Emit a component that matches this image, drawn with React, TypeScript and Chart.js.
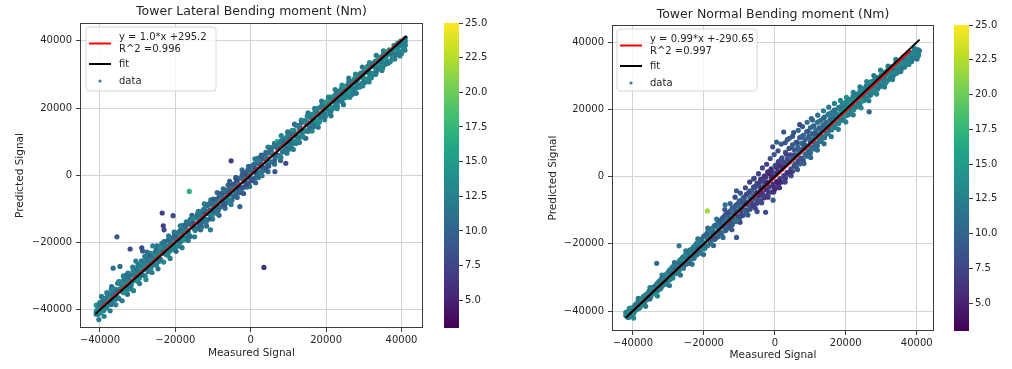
import React, { useEffect, useRef } from "react";
import { Chart, registerables } from "chart.js";

Chart.register(...registerables);

const FONT = "'DejaVu Sans', 'Liberation Sans', sans-serif";
const TEXT = "#262626";

// ---------- data ----------
const axisTicks = [-40000, -20000, 0, 20000, 40000];
const colorbarTicks = [5, 7.5, 10, 12.5, 15, 17.5, 20, 22.5, 25];
const colorMin = 3;
const colorMax = 25;

const lateralTitle = "Tower Lateral Bending moment (Nm)";
const normalTitle = "Tower Normal Bending moment (Nm)";
const xAxisLabel = "Measured Signal";
const yAxisLabel = "Predicted Signal";
const lateralFitLabel = ["y = 1.0*x +295.2", "R^2 =0.996"];
const normalFitLabel = ["y = 0.99*x +-290.65", "R^2 =0.997"];
const identityLabel = "fit";
const dataLabel = "data";

// regression (red) and identity (black, "fit") lines: [measured, predicted]
const lateralRegLine = [[-40000, -39705], [40500, 40795]];
const lateralIdLine = [[-41200, -41200], [41400, 41400]];
const normalRegLine = [[-41000, -40881], [38300, 37626]];
const normalIdLine = [[-42000, -42000], [40800, 40800]];

// [measured, predicted, colour value]
const lateralPoints = [
  [-41000,-40600,12],[-41000,-38600,15],[-41000,-41300,11],
  [-40000,-38800,13],[-40000,-40800,12],[-40000,-37800,14],
  [-39000,-38700,11],[-39000,-37200,13],[-39000,-40200,12],
  [-38000,-35400,14],[-38000,-37100,12],[-38000,-38600,13],
  [-37000,-38400,11],[-37000,-35500,13],[-37000,-34000,12],
  [-36000,-35800,12],[-36000,-33800,14],[-36000,-37000,13],
  [-35000,-33900,13],[-35000,-31600,12],[-35000,-36600,11],
  [-34000,-34500,12],[-34000,-31500,14],[-34000,-33200,13],
  [-33000,-31300,12],[-33000,-34300,13],[-33000,-29700,11],
  [-32000,-31600,14],[-32000,-29700,12],[-32000,-33800,13],
  [-31000,-27900,13],[-31000,-31200,11],[-31000,-29600,12],
  [-30000,-31500,12],[-30000,-29200,14],[-30000,-27400,13],
  [-29000,-27100,11],[-29000,-29700,13],[-29000,-25400,12],
  [-28000,-27700,13],[-28000,-25300,12],[-28000,-29900,14],
  [-27000,-25700,12],[-27000,-28100,11],[-27000,-23800,13],
  [-26000,-23800,14],[-26000,-26300,12],[-26000,-25600,10],
  [-25000,-26600,13],[-25000,-23400,12],[-25000,-22000,11],
  [-24000,-23300,12],[-24000,-21500,13],[-24000,-24900,10],
  [-23000,-19700,11],[-23000,-23200,14],[-23000,-21500,12],
  [-22000,-23800,13],[-22000,-21100,12],[-22000,-19300,9],
  [-21000,-19000,12],[-21000,-21700,10],[-21000,-20700,13],
  [-20000,-17100,13],[-20000,-21300,12],[-20000,-18800,11],
  [-19000,-18500,12],[-19000,-16800,14],[-19000,-21000,10],
  [-18000,-18500,11],[-18000,-16300,13],[-18000,-14900,12],
  [-17000,-14500,12],[-17000,-18500,11],[-17000,-16200,9],
  [-16000,-14700,13],[-16000,-18200,12],[-16000,-13100,10],
  [-15000,-15800,12],[-15000,-14400,11],[-15000,-12700,13],
  [-14000,-11000,12],[-14000,-15700,10],[-14000,-12900,14],
  [-13000,-13300,9],[-13000,-11000,12],[-13000,-15400,13],
  [-12000,-10400,11],[-12000,-8800,13],[-12000,-13200,12],
  [-11000,-13000,10],[-11000,-10600,12],[-11000,-8400,11],
  [-10000,-9000,13],[-10000,-10900,9],[-10000,-7100,12],
  [-9000,-11300,12],[-9000,-7100,10],[-9000,-8900,11],
  [-8000,-5400,9],[-8000,-9400,12],[-8000,-7300,13],
  [-7000,-6800,11],[-7000,-9100,10],[-7000,-4800,12],
  [-6000,-2900,10],[-6000,-4800,8],[-6000,-7100,12],
  [-5000,-7400,11],[-5000,-4400,9],[-5000,-2600,13],
  [-4000,-2400,10],[-4000,-5300,12],[-4000,-800,9],
  [-3000,-3500,8],[-3000,-900,11],[-3000,-5200,10],
  [-2000,-1100,12],[-2000,900,10],[-2000,-3600,9],
  [-1000,-3500,11],[-1000,-600,8],[-1000,800,12],
  [0,2600,10],[0,-1000,9],[0,1100,7],
  [1000,-900,11],[1000,1300,10],[1000,3400,13],
  [2000,3500,9],[2000,-700,12],[2000,5100,11],
  [3000,2400,10],[3000,5000,8],[3000,1200,12],
  [4000,6800,11],[4000,4700,10],[4000,1600,9],
  [5000,3800,12],[5000,6700,10],[5000,8300,13],
  [6000,6200,9],[6000,3900,11],[6000,8500,12],
  [7000,8300,11],[7000,6100,10],[7000,10000,17],
  [8000,5400,12],[8000,8800,11],[8000,10200,13],
  [9000,10800,10],[9000,7500,12],[9000,9300,11],
  [10000,9600,13],[10000,12700,11],[10000,7700,12],
  [11000,12200,12],[11000,9700,10],[11000,13400,13],
  [12000,14900,11],[12000,11800,13],[12000,9500,12],
  [13000,11300,12],[13000,14500,13],[13000,13500,10],
  [14000,16200,14],[14000,13100,12],[14000,11400,11],
  [15000,15700,13],[15000,17600,12],[15000,13200,12],
  [16000,15500,11],[16000,17900,13],[16000,13700,14],
  [17000,18300,12],[17000,15500,13],[17000,19800,12],
  [18000,15600,13],[18000,18200,12],[18000,20000,14],
  [19000,20100,12],[19000,17800,13],[19000,21500,11],
  [20000,18000,19],[20000,20600,13],[20000,21800,12],
  [21000,20400,17],[21000,23300,13],[21000,18300,12],
  [22000,23500,12],[22000,20200,13],[22000,22400,14],
  [23000,21900,12],[23000,25000,13],[23000,20600,11],
  [24000,24800,13],[24000,23700,12],[24000,25700,14],
  [25000,23100,13],[25000,26200,12],[25000,24300,13],
  [26000,26300,12],[26000,27900,13],[26000,23800,14],
  [27000,25600,12],[27000,27900,13],[27000,24100,12],
  [28000,29500,13],[28000,27300,12],[28000,26000,13],
  [29000,29200,12],[29000,26400,13],[29000,30200,14],
  [30000,28800,13],[30000,30700,12],[30000,27700,12],
  [31000,32400,12],[31000,30600,13],[31000,28200,13],
  [32000,30300,13],[32000,32500,12],[32000,29000,12],
  [33000,33900,12],[33000,32100,13],[33000,30600,14],
  [34000,33700,13],[34000,32000,12],[34000,35100,12],
  [35000,33700,12],[35000,35500,13],[35000,31900,13],
  [36000,33700,13],[36000,35600,12],[36000,36700,14],
  [37000,36000,12],[37000,33800,13],[37000,37200,13],
  [38000,36200,13],[38000,37700,12],[38000,38600,12],
  [39000,36300,12],[39000,38200,13],[39000,39300,13],
  [40000,38500,13],[40000,39500,12],[40000,36200,13],
  [41000,39800,12],[41000,40800,13],[41000,38700,12],
];

const lateralPointsFill = [
  [-40450,-39500,13],[-40550,-41300,12],[-39480,-37600,12],[-39560,-39800,14],
  [-38430,-37500,13],[-38520,-36500,12],[-37460,-36000,14],[-37550,-37700,12],
  [-36420,-35600,11],[-36560,-34200,13],[-35440,-34300,12],[-35530,-35900,14],
  [-34470,-32200,13],[-34560,-34400,11],[-33430,-32500,14],[-33540,-30800,12],
  [-32460,-31000,13],[-32550,-33100,12],[-31420,-29500,12],[-31560,-31900,14],
  [-30450,-30000,13],[-30530,-28300,11],[-29460,-28400,12],[-29550,-30500,13],
  [-28430,-26400,14],[-28570,-28100,12],[-27450,-27300,13],[-27540,-25100,12],
  [-26470,-24300,11],[-26550,-27600,13],[-25430,-25000,12],[-25560,-23100,14],
  [-24460,-22600,13],[-24540,-25600,12],[-23440,-22700,12],[-23560,-20800,11],
  [-22470,-20900,13],[-22530,-23500,12],[-21450,-20100,12],[-21560,-22600,13],
  [-20430,-18300,11],[-20560,-20400,14],[-19460,-19500,13],[-19540,-17300,12],
  [-18440,-16400,12],[-18560,-19700,11],[-17470,-16900,13],[-17530,-15100,12],
  [-16450,-14400,11],[-16550,-17000,13],[-15430,-14900,12],[-15570,-13100,14],
  [-14460,-12400,13],[-14540,-15900,11],[-13450,-12300,12],[-13560,-14600,10],
  [-12470,-10100,12],[-12530,-13900,11],[-11440,-11300,13],[-11560,-9000,12],
  [-10460,-8400,11],[-10540,-12100,10],[-9450,-9800,12],[-9560,-7600,13],
  [-8430,-6500,10],[-8570,-10200,11],[-7460,-7800,12],[-7540,-5500,9],
  [-6450,-4500,11],[-6560,-8300,10],[-5440,-5700,12],[-5550,-3300,10],
  [-4460,-2700,9],[-4540,-6300,11],[-3470,-4000,10],[-3530,-1400,12],
  [-2450,-700,11],[-2560,-4300,9],[-1440,-1900,10],[-1560,400,8],
  [-460,1500,11],[-540,-2300,9],[460,-1200,10],[540,2100,12],
  [1450,600,9],[1560,3600,11],[2460,1000,12],[2540,4400,10],
  [3450,5900,11],[3560,2200,9],[4440,3200,12],[4560,6700,11],
  [5460,7300,10],[5540,4000,12],[6450,5000,11],[6560,8700,13],
  [7440,9400,12],[7560,5900,10],[8460,7000,11],[8540,10500,12],
  [9450,11200,13],[9560,8000,11],[10450,9200,12],[10560,12200,10],
  [11460,13300,11],[11540,10200,13],[12450,11400,12],[12560,14600,13],
  [13460,15600,11],[13540,12100,12],[14450,13200,13],[14560,16100,12],
  [15440,17300,14],[15560,14100,11],[16450,15100,12],[16560,18300,13],
  [17460,19300,12],[17540,16300,14],[18450,17200,12],[18560,20200,13],
  [19440,21200,14],[19560,18300,12],[20450,19400,13],[20560,22400,12],
  [21460,22800,12],[21540,19700,14],[22450,21200,13],[22560,24100,12],
  [23460,25000,14],[23540,22200,12],[24450,23000,13],[24560,25900,12],
  [25460,26700,12],[25540,24000,13],[26450,25100,14],[26560,27700,12],
  [27460,28600,13],[27540,25800,12],[28450,26900,12],[28560,29400,13],
  [29460,30300,12],[29540,27400,13],[30450,28600,14],[30560,31300,12],
  [31460,32000,13],[31540,29300,12],[32450,30100,13],[32560,32700,12],
  [33460,33500,14],[33540,31400,12],[34450,32300,13],[34560,34600,12],
  [35460,35200,12],[35540,32900,13],[36450,34000,14],[36560,36400,12],
  [37460,36900,13],[37540,34700,12],[38450,35800,12],[38560,38000,13],
  [39460,38700,12],[39540,36800,13],[40450,37600,13],[40560,39700,12],
];

const lateralPointsDense = [
  [-40750,-40100,13],[-40250,-38400,12],[-39750,-40900,14],[-39250,-37500,12],
  [-38750,-38100,11],[-38250,-39400,13],[-37750,-35300,12],[-37250,-36900,14],
  [-36750,-37600,12],[-36250,-33900,13],[-35750,-34600,11],[-35250,-36400,12],
  [-34750,-31900,13],[-34250,-33300,12],[-33750,-34900,14],[-33250,-30600,12],
  [-32750,-32200,13],[-32250,-30200,11],[-31750,-32900,12],[-31250,-28600,13],
  [-30750,-29900,12],[-30250,-31100,14],[-29750,-26700,12],[-29250,-28000,13],
  [-28750,-29600,11],[-28250,-25900,12],[-27750,-26900,13],[-27250,-28600,12],
  [-26750,-24100,10],[-26250,-25100,13],[-25750,-26700,12],[-25250,-22600,11],
  [-24750,-23900,13],[-24250,-25500,12],[-23750,-21400,14],[-23250,-22700,10],
  [-22750,-21000,12],[-22250,-23600,13],[-21750,-19200,11],[-21250,-20500,12],
  [-20750,-22100,13],[-20250,-18100,10],[-19750,-19500,12],[-19250,-20900,13],
  [-18750,-16400,11],[-18250,-17200,12],[-17750,-19200,14],[-17250,-14900,10],
  [-16750,-16400,12],[-16250,-17900,11],[-15750,-13300,13],[-15250,-14200,9],
  [-14750,-16400,12],[-14250,-11900,11],[-13750,-13100,13],[-13250,-14900,10],
  [-12750,-10500,12],[-12250,-11500,9],[-11750,-13700,12],[-11250,-8700,11],
  [-10750,-10300,10],[-10250,-11900,13],[-9750,-7300,9],[-9250,-8400,12],
  [-8750,-10700,11],[-8250,-6000,10],[-7750,-7200,12],[-7250,-8900,9],
  [-6750,-4400,11],[-6250,-5700,10],[-5750,-7600,12],[-5250,-3000,9],
  [-4750,-3800,11],[-4250,-6100,10],[-3750,-1400,8],[-3250,-2700,12],
  [-2750,-4700,10],[-2250,200,9],[-1750,-1300,11],[-1250,-2900,8],
  [-750,1600,10],[-250,400,12],[250,-1600,9],[750,3100,11],
  [1250,2000,8],[1750,-100,10],[2250,4400,12],[2750,3200,9],
  [3250,1400,11],[3750,6000,10],[4250,5100,12],[4750,2700,9],
  [5250,7500,11],[5750,6300,13],[6250,4100,10],[6750,8900,12],
  [7250,7900,11],[7750,5600,13],[8250,10300,12],[8750,9600,10],
  [9250,7000,12],[9750,11700,13],[10250,10800,11],[10750,8500,12],
  [11250,13200,14],[11750,12400,12],[12250,10100,13],[12750,14800,12],
  [13250,13700,11],[13750,11600,13],[14250,16100,12],[14750,15500,14],
  [15250,13100,12],[15750,17600,13],[16250,16700,12],[16750,14500,11],
  [17250,19000,13],[17750,18400,12],[18250,16000,14],[18750,20500,12],
  [19250,19600,13],[19750,17400,12],[20250,21900,16],[20750,21300,13],
  [21250,19000,12],[21750,23300,14],[22250,22500,12],[22750,20400,13],
  [23250,24800,12],[23750,24200,13],[24250,21900,12],[24750,26200,14],
  [25250,25400,12],[25750,23300,13],[26250,27600,12],[26750,26900,13],
  [27250,24800,12],[27750,29000,14],[28250,28300,12],[28750,26200,13],
  [29250,30400,12],[29750,29600,13],[30250,27600,12],[30750,31800,14],
  [31250,31000,12],[31750,29100,13],[32250,33200,12],[32750,32400,13],
  [33250,30500,12],[33750,34600,14],[34250,33800,12],[34750,31900,13],
  [35250,35900,12],[35750,35100,13],[36250,33300,12],[36750,37300,14],
  [37250,36300,12],[37750,34600,13],[38250,38600,12],[38750,37600,13],
  [39250,36000,12],[39750,39900,14],[40250,38900,12],[40750,37900,13],
];

const lateralPointsEdge = [
  [-39600,-36000,12],[-38200,-34900,13],[-36900,-33100,11],[-35300,-32100,12],
  [-33800,-29900,13],[-32600,-29100,12],[-31300,-27300,11],[-29900,-26500,13],
  [-28100,-24100,12],[-26600,-23200,12],[-24900,-21000,11],[-23600,-20200,13],
  [-21800,-18000,12],[-20300,-16900,11],[-18700,-15000,13],[-17100,-13800,12],
  [-15600,-11900,10],[-13900,-10700,12],[-12300,-8500,11],[-10600,-7300,12],
  [-8900,-5100,10],[-7300,-4000,11],[-5600,-1800,9],[-3900,-600,10],
  [-2300,1600,12],[-600,2700,11],[1100,4900,12],[2800,6000,10],
  [4600,8400,12],[6300,9500,11],[8100,11800,13],[9800,12900,12],
  [11600,15200,11],[13400,16400,13],[15200,18600,12],[17000,19900,14],
  [18800,22100,12],[20600,23300,13],[22400,25500,12],[24200,26800,14],
  [26000,28900,12],[27800,30100,13],[29600,32200,12],[31500,33500,13],
  [33300,35700,12],[35200,37000,13],
  [-40300,-42900,12],[-38900,-41900,13],[-37300,-40300,12],[-35800,-38500,13],
  [-34100,-37300,12],[-32700,-35400,11],[-31100,-34300,13],[-29500,-32200,12],
  [-27800,-31000,13],[-26200,-28900,12],[-24600,-27800,11],[-23100,-25800,13],
  [-21400,-24700,12],[-19800,-22600,10],[-18200,-21500,12],[-16600,-19400,11],
  [-14900,-18300,12],[-13300,-16200,10],[-11700,-15100,11],[-10100,-13000,12],
  [-8400,-11900,10],[-6800,-9800,11],[-5200,-8700,12],[-3600,-6600,10],
  [-1900,-5400,9],[-300,-3300,11],[1300,-2200,10],[3000,-100,12],
  [4600,1100,11],[6300,3300,12],[7900,4400,10],[9600,6600,12],
  [11300,7700,13],[12900,9800,12],[14600,11000,11],[16300,13200,13],
  [17900,14300,12],[19600,16500,13],[21300,17700,12],[22900,19800,14],
  [24600,21000,12],[26300,23200,13],[28000,24400,12],[29700,26600,13],
  [31400,27800,12],[33100,30000,13],[34800,31200,12],[36500,33400,13],
  [38200,34600,12],[39600,35500,13],[40900,37200,12],
];

const lateralOutliers = [
  [-35500,-18300,9],[-32000,-21900,8],[-36500,-27600,11],[-28900,-21600,8],
  [-28700,-22500,9],[-34700,-27100,11],[-23500,-11200,7],[-20600,-12000,8],
  [-23200,-15000,7],[-23000,-16200,8],[-16300,-4800,17],[-5200,4300,7],
  [9300,3600,8],[6400,1100,9],[-2900,-9300,10],[3500,-27400,6],
  [-10700,-16200,12],[-30500,-25500,12],[-27500,-22800,11],[-26000,-21000,13],
];

const normalPoints = [
  [-42000,-41300,12],[-42000,-40400,13],
  [-41000,-40300,13],[-41000,-39200,12],[-41000,-41600,14],
  [-40000,-38900,12],[-40000,-40600,13],[-40000,-39700,11],
  [-39000,-37800,13],[-39000,-39600,12],[-39000,-38400,14],
  [-38000,-36800,12],[-38000,-38900,13],[-38000,-37500,13],
  [-37000,-36100,13],[-37000,-37800,12],[-37000,-35600,11],
  [-36000,-34900,12],[-36000,-36600,13],[-36000,-35800,14],
  [-35000,-33700,13],[-35000,-35900,12],[-35000,-34400,12],
  [-34000,-32700,12],[-34000,-34800,13],[-34000,-33600,11],
  [-33000,-31600,13],[-33000,-33900,12],[-33000,-32400,14],
  [-32000,-30400,12],[-32000,-32900,13],[-32000,-31700,12],
  [-31000,-29300,13],[-31000,-31800,11],[-31000,-30600,12],
  [-30000,-28400,12],[-30000,-30900,13],[-30000,-29500,12],
  [-29000,-27100,11],[-29000,-29900,12],[-29000,-28600,13],
  [-28000,-26300,12],[-28000,-28900,13],[-28000,-27300,10],
  [-27000,-25200,13],[-27000,-27900,12],[-27000,-26700,11],
  [-26000,-24000,12],[-26000,-27000,11],[-26000,-25600,13],
  [-25000,-23100,11],[-25000,-26100,12],[-25000,-24400,13],
  [-24000,-21900,12],[-24000,-25300,10],[-24000,-23600,12],
  [-23000,-21000,13],[-23000,-24200,11],[-23000,-22500,12],
  [-22000,-19800,11],[-22000,-23300,12],[-22000,-21400,10],
  [-21000,-18800,12],[-21000,-22400,13],[-21000,-20500,11],
  [-20000,-17700,10],[-20000,-21500,12],[-20000,-19600,16],
  [-19000,-16600,12],[-19000,-20600,11],[-19000,-18400,10],
  [-18000,-15700,11],[-18000,-19800,12],[-18000,-17300,13],
  [-17000,-14600,10],[-17000,-18700,11],[-17000,-16600,12],
  [-16000,-13500,12],[-16000,-17900,10],[-16000,-15300,9],
  [-15000,-12700,11],[-15000,-16900,12],[-15000,-14600,10],
  [-14000,-11400,9],[-14000,-16100,11],[-14000,-13200,12],
  [-13000,-10600,10],[-13000,-15200,9],[-13000,-12400,11],
  [-12000,-9300,8],[-12000,-14300,10],[-12000,-11600,12],
  [-11000,-8500,9],[-11000,-13400,11],[-11000,-10300,8],
  [-10000,-7200,10],[-10000,-12500,9],[-10000,-9600,11],
  [-9000,-6400,17],[-9000,-11600,8],[-9000,-8500,9],
  [-8000,-5300,8],[-8000,-10800,10],[-8000,-7600,9],
  [-7000,-4200,9],[-7000,-9700,8],[-7000,-6500,11],
  [-6000,-3100,7],[-6000,-8800,9],[-6000,-5700,8],
  [-5000,-2000,8],[-5000,-7900,7],[-5000,-4600,10],
  [-4000,-800,6],[-4000,-7100,8],[-4000,-3500,7],
  [-3000,200,7],[-3000,-6300,6],[-3000,-2600,9],
  [-2000,1400,6],[-2000,-5400,7],[-2000,-1700,8],
  [-1000,2300,5],[-1000,-4600,6],[-1000,-500,7],
  [0,3200,16],[0,-3700,5],[0,600,7],
  [1000,4500,7],[1000,-2400,6],[1000,1500,8],
  [2000,5600,8],[2000,-1600,7],[2000,2300,6],
  [3000,7200,9],[3000,-500,7],[3000,3500,8],
  [4000,8400,8],[4000,700,9],[4000,4300,7],
  [5000,9500,9],[5000,1600,8],[5000,5400,10],
  [6000,10200,10],[6000,2900,9],[6000,6500,8],
  [7000,11600,9],[7000,3800,10],[7000,7300,11],
  [8000,12300,10],[8000,4900,9],[8000,8400,8],
  [9000,13400,9],[9000,6100,11],[9000,9200,10],
  [10000,14500,11],[10000,7000,10],[10000,10300,9],
  [11000,15100,10],[11000,8200,11],[11000,11400,12],
  [12000,16200,11],[12000,9300,10],[12000,12500,9],
  [13000,16800,10],[13000,10500,11],[13000,13400,12],
  [14000,17700,12],[14000,11600,10],[14000,14300,11],
  [15000,18500,11],[15000,12700,12],[15000,15200,13],
  [16000,19100,12],[16000,13900,11],[16000,16300,10],
  [17000,19800,13],[17000,14700,12],[17000,17400,11],
  [18000,20600,12],[18000,15800,13],[18000,18200,14],
  [19000,21400,13],[19000,17000,12],[19000,19300,16],
  [20000,22100,14],[20000,18100,13],[20000,20200,18],
  [21000,22900,13],[21000,19000,14],[21000,21100,12],
  [22000,23800,12],[22000,20000,13],[22000,21900,17],
  [23000,24600,13],[23000,20800,12],[23000,22700,14],
  [24000,25400,12],[24000,21700,13],[24000,23600,12],
  [25000,26200,13],[25000,22600,12],[25000,24400,14],
  [26000,27100,12],[26000,23500,13],[26000,25200,12],
  [27000,27900,13],[27000,24300,12],[27000,26100,13],
  [28000,28700,12],[28000,25100,13],[28000,27000,12],
  [29000,29500,13],[29000,26100,12],[29000,27900,13],
  [30000,30200,12],[30000,27000,13],[30000,28800,12],
  [31000,31100,13],[31000,27900,12],[31000,29700,13],
  [32000,31900,12],[32000,28800,13],[32000,30600,12],
  [33000,32700,13],[33000,29700,12],[33000,31500,14],
  [34000,33600,12],[34000,30700,13],[34000,32300,12],
  [35000,34300,13],[35000,31600,12],[35000,33100,13],
  [36000,35100,12],[36000,32700,13],[36000,33900,12],
  [37000,35800,13],[37000,33500,12],[37000,34700,13],
  [38000,36500,12],[38000,34400,13],[38000,35600,12],
  [39000,37100,13],[39000,35200,12],[39000,36300,14],
  [40000,37600,12],[40000,35800,13],[40000,36900,12],
  [40500,37200,13],[40500,36400,12],
];

const normalPointsFill = [
  [-41450,-40200,13],[-41560,-41800,12],[-40460,-40900,12],[-40540,-39300,14],
  [-39450,-38300,12],[-39570,-40100,13],[-38440,-38700,13],[-38560,-37100,12],
  [-37450,-36300,12],[-37550,-38200,14],[-36460,-36900,13],[-36540,-35300,12],
  [-35450,-34100,12],[-35560,-36300,13],[-34440,-34800,13],[-34560,-33000,12],
  [-33460,-32300,12],[-33540,-34100,11],[-32450,-32800,13],[-32570,-31100,12],
  [-31440,-30000,12],[-31560,-32300,13],[-30460,-31000,11],[-30540,-29100,13],
  [-29450,-27700,12],[-29560,-30600,13],[-28440,-28800,12],[-28560,-26600,13],
  [-27460,-25900,11],[-27540,-28600,12],[-26450,-26900,13],[-26560,-24700,12],
  [-25440,-23600,12],[-25560,-26200,10],[-24460,-24800,13],[-24540,-22700,11],
  [-23450,-21700,12],[-23570,-24600,13],[-22460,-22800,10],[-22540,-20600,12],
  [-21440,-19300,13],[-21560,-22700,11],[-20450,-20900,12],[-20550,-18500,10],
  [-19460,-17400,11],[-19540,-20800,12],[-18440,-18900,10],[-18560,-16400,12],
  [-17450,-15200,11],[-17560,-18300,9],[-16460,-16900,12],[-16540,-14400,10],
  [-15450,-13300,9],[-15550,-16000,11],[-14460,-14900,10],[-14540,-12100,8],
  [-13450,-11100,11],[-13560,-14100,9],[-12440,-13400,8],[-12560,-10200,10],
  [-11460,-9200,9],[-11540,-12600,11],[-10450,-11700,8],[-10560,-8300,10],
  [-9460,-7200,9],[-9540,-10300,7],[-8450,-9900,10],[-8560,-6100,8],
  [-7440,-4900,7],[-7560,-8500,9],[-6450,-7700,8],[-6560,-4300,10],
  [-5460,-2900,7],[-5540,-6600,9],[-4450,-5600,6],[-4560,-2300,8],
  [-3460,-1200,7],[-3540,-4900,6],[-2450,-3900,6],[-2560,-200,7],
  [-1440,800,5],[-1560,-3000,7],[-460,-2200,6],[-540,1300,8],
  [460,2700,6],[540,-1500,5],[1450,-600,7],[1560,3300,6],
  [2460,4400,8],[2540,300,7],[3450,1200,6],[3560,5300,8],
  [4440,6500,7],[4560,2300,9],[5460,3300,8],[5540,7900,9],
  [6450,8800,10],[6560,4600,8],[7460,5500,9],[7540,9900,11],
  [8450,11000,10],[8560,6600,9],[9460,7600,10],[9540,11900,8],
  [10450,12800,10],[10560,8800,11],[11460,9700,9],[11540,13700,11],
  [12450,14500,10],[12560,10900,12],[13460,11900,11],[13540,15300,10],
  [14450,16200,11],[14560,13000,12],[15460,14100,10],[15540,17000,12],
  [16450,17800,11],[16560,14900,12],[17460,16000,13],[17540,18500,11],
  [18450,19900,13],[18560,16800,12],[19460,17800,14],[19540,20700,12],
  [20450,21400,13],[20560,18700,15],[21460,19800,12],[21540,22200,13],
  [22450,22900,14],[22560,20800,12],[23460,21600,13],[23540,23900,12],
  [24450,24700,13],[24560,22500,14],[25460,23400,12],[25540,25500,13],
  [26450,26300,12],[26560,24200,13],[27460,25000,13],[27540,27200,12],
  [28450,28000,13],[28560,25900,12],[29460,26800,12],[29540,28800,14],
  [30450,29600,13],[30560,27300,12],[31460,28300,12],[31540,30500,13],
  [32450,31300,13],[32560,29200,12],[33460,30100,12],[33540,32100,13],
  [34450,33000,13],[34560,31000,12],[35460,31900,12],[35540,33800,14],
  [36450,34600,13],[36560,32600,12],[37460,33600,12],[37540,35300,13],
  [38450,36000,13],[38560,34300,12],[39460,35300,12],[39540,36700,13],
  [40300,37800,13],[40400,35900,12],
];

const normalPointsDense = [
  [-41750,-41000,13],[-41250,-41900,12],[-40750,-39800,14],[-40250,-40100,12],
  [-39750,-40700,13],[-39250,-38200,12],[-38750,-38600,11],[-38250,-39200,13],
  [-37750,-36600,12],[-37250,-37100,14],[-36750,-37800,12],[-36250,-35100,13],
  [-35750,-35500,12],[-35250,-36400,11],[-34750,-33500,13],[-34250,-34100,12],
  [-33750,-34900,14],[-33250,-32000,12],[-32750,-32500,13],[-32250,-33400,12],
  [-31750,-30400,11],[-31250,-31000,13],[-30750,-32000,12],[-30250,-28800,13],
  [-29750,-28000,12],[-29250,-29100,11],[-28750,-30200,13],[-28250,-26500,12],
  [-27750,-27600,10],[-27250,-28700,12],[-26750,-24900,13],[-26250,-26000,11],
  [-25750,-27300,12],[-25250,-23400,13],[-24750,-24500,12],[-24250,-25800,10],
  [-23750,-21900,12],[-23250,-23000,13],[-22750,-24300,11],[-22250,-20300,12],
  [-21750,-21500,10],[-21250,-22800,12],[-20750,-18800,11],[-20250,-19900,13],
  [-19750,-21400,12],[-19250,-17200,10],[-18750,-18400,12],[-18250,-19900,11],
  [-17750,-15700,12],[-17250,-16900,10],[-16750,-18400,9],[-16250,-14200,11],
  [-15750,-15400,12],[-15250,-17000,10],[-14750,-12400,9],[-14250,-13900,11],
  [-13750,-15900,10],[-13250,-10900,8],[-12750,-12400,10],[-12250,-14400,9],
  [-11750,-9400,10],[-11250,-10900,8],[-10750,-13000,11],[-10250,-7900,9],
  [-9750,-9400,10],[-9250,-11500,8],[-8750,-6300,9],[-8250,-7900,7],
  [-7750,-10000,9],[-7250,-4800,8],[-6750,-6400,10],[-6250,-8600,7],
  [-5750,-3300,8],[-5250,-4900,6],[-4750,-7100,8],[-4250,-1700,7],
  [-3750,-3400,6],[-3250,-5700,7],[-2750,200,6],[-2250,-1800,5],
  [-1750,-4500,7],[-1250,1700,6],[-750,-200,5],[-250,-3100,6],
  [250,3400,7],[750,1300,6],[1250,-1600,5],[1750,5000,8],
  [2250,2800,6],[2750,-100,7],[3250,6700,7],[3750,4400,8],
  [4250,1400,6],[4750,8600,9],[5250,6400,8],[5750,3800,9],
  [6250,10200,8],[6750,8100,10],[7250,5300,9],[7750,12000,10],
  [8250,9700,9],[8750,6800,11],[9250,13500,9],[9750,11300,10],
  [10250,8300,11],[10750,15000,10],[11250,12800,9],[11750,9900,11],
  [12250,16300,11],[12750,14300,10],[13250,11400,12],[13750,17500,10],
  [14250,15800,11],[14750,12900,12],[15250,18700,12],[15750,17200,11],
  [16250,14400,13],[16750,19800,11],[17250,18600,12],[17750,15900,13],
  [18250,20600,12],[18750,19000,14],[19250,16900,12],[19750,21900,13],
  [20250,20000,16],[20750,18400,12],[21250,23000,13],[21750,21400,15],
  [22250,19900,13],[22750,24300,12],[23250,22800,14],[23750,21400,12],
  [24250,25700,13],[24750,24200,12],[25250,22800,13],[25750,27000,12],
  [26250,25600,14],[26750,24300,12],[27250,28300,13],[27750,27000,12],
  [28250,25700,13],[28750,29500,12],[29250,28400,13],[29750,27200,12],
  [30250,30000,13],[30750,28900,12],[31250,27900,13],[31750,31400,12],
  [32250,30400,13],[32750,29300,12],[33250,32800,14],[33750,31900,12],
  [34250,30800,13],[34750,34200,12],[35250,33300,13],[35750,32200,12],
  [36250,35600,13],[36750,34800,12],[37250,33700,13],[37750,37000,12],
  [38250,36200,13],[38750,35100,12],[39250,38300,13],[39750,37600,12],
  [40250,36700,13],[40750,37500,12],
];

const normalPointsEdge = [
  [-38500,-36200,12],[-35200,-33000,13],[-31800,-29300,12],[-28300,-25600,11],
  [-25100,-22100,12],[-21700,-18500,11],[-18900,-15300,10],[-16400,-12600,11],
  [-14100,-9800,9],[-12600,-8000,10],[-11200,-6100,8],[-9700,-4900,9],
  [-8300,-3300,8],[-7100,-1600,7],[-5800,-500,8],[-4600,900,7],
  [-3500,2600,8],[-2300,3700,7],[-1300,5400,8],[-200,6600,9],
  [900,7700,8],[1800,9700,9],[2900,10100,9],[4100,11400,10],
  [5300,13100,9],[6600,13800,10],[7800,14900,9],[9100,16200,11],
  [10600,16900,10],[12100,18300,11],[13700,19600,12],[15200,20700,12],
  [16800,21800,13],[18500,22700,13],[20200,23600,14],[22100,25100,13],
  [24000,26700,12],[25900,28300,13],[27900,30100,12],[29800,31700,13],
  [31900,32900,12],[34100,34900,13],
  [-39800,-42100,13],[-36400,-38600,12],[-33100,-35500,13],[-29700,-32400,12],
  [-26600,-29300,11],[-23300,-26100,12],[-20100,-23200,11],[-17300,-20500,10],
  [-14600,-18100,11],[-12100,-15800,9],[-9800,-13600,8],[-7600,-11400,9],
  [-5500,-9400,7],[-3700,-7800,8],[-1900,-6100,6],[-300,-4600,7],
  [1300,-3300,6],[2900,-1600,7],[4600,300,8],[6400,2100,9],
  [8200,3900,10],[10100,5700,10],[12000,7900,11],[13900,9800,11],
  [15900,11900,12],[17900,14100,12],[20000,16300,13],[22100,18400,12],
  [24300,20500,13],[26500,22600,12],[28700,24600,13],[30900,26700,12],
  [33200,28900,13],[35500,31300,12],[37800,33400,13],[40100,35000,12],
];

const normalOutliers = [
  [-19000,-10200,22],[-27000,-20600,12],[-33300,-25800,11],[-10800,-4200,9],
  [-2600,-10600,8],[-5000,-10400,8],[-500,-7000,9],[-10800,-18100,9],
  [26600,19300,10],[10300,17300,10],[2500,13300,9],[500,10300,10],
  [-600,8900,8],[5000,12000,9],[7000,15500,8],[3500,11000,9],
  [-6000,-700,8],[-14000,-8400,11],
];

// ---------- helpers ----------
const VIRIDIS = [
  "#440154", "#482576", "#414487", "#355f8d", "#2a788e", "#21918c",
  "#22a884", "#44bf70", "#7ad151", "#bddf26", "#fde725",
];

function hexToRgb(h: string) {
  return [parseInt(h.slice(1, 3), 16), parseInt(h.slice(3, 5), 16), parseInt(h.slice(5, 7), 16)];
}

function viridis(v: number): string {
  const t = Math.min(1, Math.max(0, (v - colorMin) / (colorMax - colorMin)));
  const pos = t * (VIRIDIS.length - 1);
  const i = Math.min(VIRIDIS.length - 2, Math.floor(pos));
  const f = pos - i;
  const a = hexToRgb(VIRIDIS[i]);
  const b = hexToRgb(VIRIDIS[i + 1]);
  const c = a.map((av, k) => Math.round(av + (b[k] - av) * f));
  return `rgb(${c[0]},${c[1]},${c[2]})`;
}

function fmtTick(v: number): string {
  return v < 0 ? "\u2212" + Math.abs(v) : String(v);
}

const H = 369;

type Area = { left: number; right: number; top: number; bottom: number };
type Box = { x: number; y: number; w: number; h: number };

type PanelProps = {
  left: number;
  width: number;
  title: string;
  titleY: number;
  fitLabel: string[];
  points: number[][];
  regLine: number[][];
  idLine: number[][];
  xRange: number[];
  yRange: number[];
  area: Area;
  legend: Box;
  yTitlePad: number;
  xTitlePad: number;
};

function ScatterPanel(p: PanelProps) {
  const ref = useRef<HTMLCanvasElement>(null);
  useEffect(() => {
    const canvas = ref.current;
    if (!canvas) return;
    const decor = {
      id: "decor",
      afterDraw(chart: any) {
        const { ctx, chartArea: a } = chart;
        ctx.save();
        ctx.strokeStyle = "#3c3c3c";
        ctx.lineWidth = 1;
        ctx.strokeRect(a.left + 0.5, a.top + 0.5, a.right - a.left - 1, a.bottom - a.top - 1);
        ctx.fillStyle = TEXT;
        ctx.font = `12.5px ${FONT}`;
        ctx.textAlign = "center";
        ctx.textBaseline = "middle";
        ctx.fillText(p.title, (a.left + a.right) / 2, p.titleY);
        const L = p.legend;
        const r = 3;
        ctx.beginPath();
        ctx.moveTo(L.x + r, L.y);
        ctx.lineTo(L.x + L.w - r, L.y);
        ctx.quadraticCurveTo(L.x + L.w, L.y, L.x + L.w, L.y + r);
        ctx.lineTo(L.x + L.w, L.y + L.h - r);
        ctx.quadraticCurveTo(L.x + L.w, L.y + L.h, L.x + L.w - r, L.y + L.h);
        ctx.lineTo(L.x + r, L.y + L.h);
        ctx.quadraticCurveTo(L.x, L.y + L.h, L.x, L.y + L.h - r);
        ctx.lineTo(L.x, L.y + r);
        ctx.quadraticCurveTo(L.x, L.y, L.x + r, L.y);
        ctx.closePath();
        ctx.fillStyle = "rgba(255,255,255,0.8)";
        ctx.fill();
        ctx.strokeStyle = "#d6d6d6";
        ctx.lineWidth = 1;
        ctx.stroke();

        ctx.lineWidth = 2;
        ctx.strokeStyle = "#ff0000";
        ctx.beginPath();
        ctx.moveTo(L.x + 3, L.y + 16.5);
        ctx.lineTo(L.x + 25, L.y + 16.5);
        ctx.stroke();
        ctx.strokeStyle = "#000000";
        ctx.beginPath();
        ctx.moveTo(L.x + 3, L.y + 37);
        ctx.lineTo(L.x + 25, L.y + 37);
        ctx.stroke();
        ctx.fillStyle = "#3a78b0";
        ctx.beginPath();
        ctx.arc(L.x + 14, L.y + 54, 1.6, 0, Math.PI * 2);
        ctx.fill();

        ctx.fillStyle = TEXT;
        ctx.font = `10px ${FONT}`;
        ctx.textAlign = "left";
        ctx.textBaseline = "middle";
        ctx.fillText(p.fitLabel[0], L.x + 33, L.y + 10);
        ctx.fillText(p.fitLabel[1], L.x + 33, L.y + 22);
        ctx.fillText(identityLabel, L.x + 33, L.y + 37);
        ctx.fillText(dataLabel, L.x + 33, L.y + 54);
        ctx.restore();
      },
    };

    const tickFont = { family: FONT, size: 10 };
    const labelFont = { family: FONT, size: 10.5 };
    const chart = new Chart(canvas, {
      type: "scatter",
      data: {
        datasets: [
          {
            type: "line",
            label: identityLabel,
            data: p.idLine.map(([x, y]) => ({ x, y })),
            borderColor: "#000000",
            borderWidth: 2,
            pointRadius: 0,
            order: 0,
          } as any,
          {
            type: "line",
            label: "regression",
            data: p.regLine.map(([x, y]) => ({ x, y })),
            borderColor: "#ff0000",
            borderWidth: 2,
            pointRadius: 0,
            order: 1,
          } as any,
          {
            type: "scatter",
            label: dataLabel,
            data: p.points.map(([x, y]) => ({ x, y })),
            backgroundColor: p.points.map((pt) => viridis(pt[2])),
            pointRadius: 2.6,
            borderWidth: 0,
            order: 2,
          } as any,
        ],
      },
      options: {
        animation: false,
        responsive: false,
        maintainAspectRatio: false,
        layout: { padding: { left: 0, right: p.width - p.area.right, top: p.area.top, bottom: 0 } },
        plugins: { legend: { display: false }, tooltip: { enabled: false }, title: { display: false } },
        scales: {
          x: {
            type: "linear",
            min: p.xRange[0],
            max: p.xRange[1],
            afterBuildTicks: (s: any) => {
              s.ticks = axisTicks.map((v) => ({ value: v }));
            },
            afterFit: (s: any) => {
              s.height = H - p.area.bottom;
            },
            grid: { color: "#d3d3d3", lineWidth: 1, tickLength: 4, tickColor: "#3c3c3c" },
            border: { display: false },
            ticks: { font: tickFont, color: TEXT, padding: 2, maxRotation: 0, autoSkip: false, callback: (v: any) => fmtTick(Number(v)) },
            title: { display: true, text: xAxisLabel, font: labelFont, color: TEXT, padding: { top: 0, bottom: p.xTitlePad } },
          },
          y: {
            type: "linear",
            min: p.yRange[0],
            max: p.yRange[1],
            afterBuildTicks: (s: any) => {
              s.ticks = axisTicks.map((v) => ({ value: v }));
            },
            afterFit: (s: any) => {
              s.width = p.area.left;
            },
            grid: { color: "#d3d3d3", lineWidth: 1, tickLength: 4, tickColor: "#3c3c3c" },
            border: { display: false },
            ticks: { font: tickFont, color: TEXT, padding: 4, autoSkip: false, callback: (v: any) => fmtTick(Number(v)) },
            title: { display: true, text: yAxisLabel, font: labelFont, color: TEXT, padding: { top: p.yTitlePad, bottom: 0 } },
          },
        },
      } as any,
      plugins: [decor],
    });
    return () => chart.destroy();
  }, []);
  return (
    <canvas
      ref={ref}
      width={p.width}
      height={H}
      style={{ position: "absolute", left: p.left, top: 0, width: p.width, height: H }}
    />
  );
}

type ColorbarProps = { left: number; width: number; barLeft: number; area: Area };

function Colorbar(p: ColorbarProps) {
  const ref = useRef<HTMLCanvasElement>(null);
  useEffect(() => {
    const canvas = ref.current;
    if (!canvas) return;
    const gradientPlugin = {
      id: "gradient",
      beforeDatasetsDraw(chart: any) {
        const { ctx, chartArea: a } = chart;
        const g = ctx.createLinearGradient(0, a.bottom, 0, a.top);
        VIRIDIS.forEach((c, i) => g.addColorStop(i / (VIRIDIS.length - 1), c));
        ctx.save();
        ctx.fillStyle = g;
        ctx.fillRect(a.left, a.top, a.right - a.left, a.bottom - a.top);
        ctx.restore();
      },
    };
    const barWidth = p.area.right - p.area.left;
    const chart = new Chart(canvas, {
      type: "scatter",
      data: { datasets: [] },
      options: {
        animation: false,
        responsive: false,
        maintainAspectRatio: false,
        layout: { padding: { left: p.barLeft, right: 0, top: p.area.top, bottom: H - p.area.bottom } },
        plugins: { legend: { display: false }, tooltip: { enabled: false } },
        scales: {
          x: { type: "linear", display: false, min: 0, max: 1 },
          y: {
            type: "linear",
            position: "right",
            min: colorMin,
            max: colorMax,
            afterBuildTicks: (s: any) => {
              s.ticks = colorbarTicks.map((v) => ({ value: v }));
            },
            afterFit: (s: any) => {
              s.width = p.width - p.barLeft - barWidth;
            },
            grid: { drawOnChartArea: false, tickLength: 4, tickColor: "#3c3c3c", lineWidth: 1 },
            border: { display: false },
            ticks: { font: { family: FONT, size: 10 }, color: TEXT, padding: 2, autoSkip: false, callback: (v: any) => Number(v).toFixed(1) },
          },
        },
      } as any,
      plugins: [gradientPlugin],
    });
    return () => chart.destroy();
  }, []);
  return (
    <canvas
      ref={ref}
      width={p.width}
      height={H}
      style={{ position: "absolute", left: p.left, top: 0, width: p.width, height: H }}
    />
  );
}

export default function App() {
  return (
    <div style={{ position: "absolute", left: 0, top: 0, width: 1012, height: H, background: "#ffffff", overflow: "hidden" }}>
      <ScatterPanel
        left={0}
        width={440}
        title={lateralTitle}
        titleY={12}
        fitLabel={lateralFitLabel}
        points={[...lateralPointsEdge, ...lateralPoints, ...lateralPointsFill, ...lateralPointsDense, ...lateralOutliers]}
        regLine={lateralRegLine}
        idLine={lateralIdLine}
        xRange={[-45300, 45700]}
        yRange={[-45400, 45300]}
        area={{ left: 80, right: 423, top: 23, bottom: 328 }}
        legend={{ x: 86, y: 27, w: 130, h: 64 }}
        yTitlePad={14}
        xTitlePad={9}
      />
      <Colorbar left={430} width={80} barLeft={14} area={{ left: 444, right: 459, top: 23, bottom: 328 }} />
      <ScatterPanel
        left={520}
        width={430}
        title={normalTitle}
        titleY={15}
        fitLabel={normalFitLabel}
        points={[...normalPointsEdge, ...normalPoints, ...normalPointsFill, ...normalPointsDense, ...normalOutliers]}
        regLine={normalRegLine}
        idLine={normalIdLine}
        xRange={[-45900, 44870]}
        yRange={[-45950, 45150]}
        area={{ left: 92, right: 414, top: 25, bottom: 331 }}
        legend={{ x: 97, y: 29, w: 140, h: 62 }}
        yTitlePad={27}
        xTitlePad={7}
      />
      <Colorbar left={940} width={72} barLeft={14} area={{ left: 954, right: 969, top: 25, bottom: 331 }} />
    </div>
  );
}
